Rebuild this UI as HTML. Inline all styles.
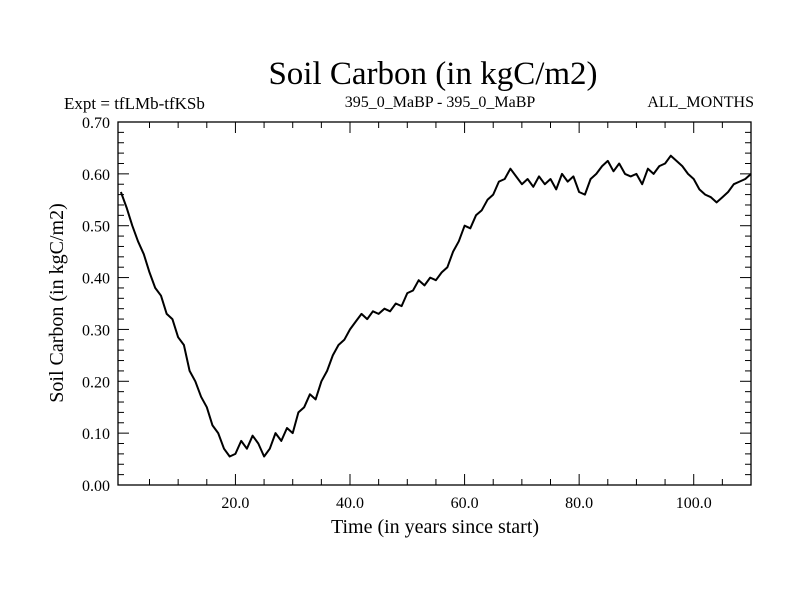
<!DOCTYPE html>
<html><head><meta charset="utf-8"><style>
body{margin:0;background:#fff}
svg text{font-family:"Liberation Serif",serif;fill:#000}
</style></head><body>
<svg id="c" width="800" height="600" xmlns="http://www.w3.org/2000/svg">
<text x="433" y="84" font-size="33" text-anchor="middle">Soil Carbon (in kgC/m2)</text>
<text x="64" y="109" font-size="17">Expt = tfLMb-tfKSb</text>
<text x="440" y="107" font-size="16" text-anchor="middle">395_0_MaBP - 395_0_MaBP</text>
<text x="754" y="107" font-size="16" text-anchor="end">ALL_MONTHS</text>
<text x="435" y="533" font-size="20" text-anchor="middle">Time (in years since start)</text>
<text transform="translate(63,303) rotate(-90)" font-size="20" text-anchor="middle">Soil Carbon (in kgC/m2)</text>
<g id="ax"></g>
<path id="ln" fill="none" stroke="#000" stroke-width="2" stroke-linejoin="round"/>
<rect x="118" y="122" width="633" height="363" fill="none" stroke="#000" stroke-width="1.3"/>
</svg>
<script>
const years=[0,1,2,3,4,5,6,7,8,9,10,11,12,13,14,15,16,17,18,19,20,21,22,23,24,25,26,27,28,29,30,31,32,33,34,35,36,37,38,39,40,41,42,43,44,45,46,47,48,49,50,51,52,53,54,55,56,57,58,59,60,61,62,63,64,65,66,67,68,69,70,71,72,73,74,75,76,77,78,79,80,81,82,83,84,85,86,87,88,89,90,91,92,93,94,95,96,97,98,99,100,101,102,103,104,105,106,107,108,109,110];
const carbon=[0.565,0.535,0.5,0.47,0.445,0.41,0.38,0.365,0.33,0.32,0.285,0.27,0.22,0.2,0.17,0.15,0.115,0.1,0.07,0.055,0.06,0.085,0.07,0.095,0.08,0.055,0.07,0.1,0.085,0.11,0.1,0.14,0.15,0.175,0.165,0.2,0.22,0.25,0.27,0.28,0.3,0.315,0.33,0.32,0.335,0.33,0.34,0.335,0.35,0.345,0.37,0.375,0.395,0.385,0.4,0.395,0.41,0.42,0.45,0.47,0.5,0.495,0.52,0.53,0.55,0.56,0.585,0.59,0.61,0.595,0.58,0.59,0.575,0.595,0.58,0.59,0.57,0.6,0.585,0.595,0.565,0.56,0.59,0.6,0.615,0.625,0.605,0.62,0.6,0.595,0.6,0.58,0.61,0.6,0.615,0.62,0.635,0.625,0.615,0.6,0.59,0.57,0.56,0.555,0.545,0.555,0.565,0.58,0.585,0.59,0.6];
const xTicks=[20,40,60,80,100];
const xTickLabels=["20.0","40.0","60.0","80.0","100.0"];
const yTicks=[0,0.1,0.2,0.3,0.4,0.5,0.6,0.7];
const yTickLabels=["0.00","0.10","0.20","0.30","0.40","0.50","0.60","0.70"];
const X0=118,X1=751,Y0=485,Y1=122,xmin=-0.5,xmax=110,ymin=0,ymax=0.7;
const sx=v=>X0+(v-xmin)/(xmax-xmin)*(X1-X0);
const sy=v=>Y0-(v-ymin)/(ymax-ymin)*(Y0-Y1);
const ns="http://www.w3.org/2000/svg",ax=document.getElementById('ax');
function ln(x1,y1,x2,y2,name){const l=document.createElementNS(ns,'line');l.setAttribute('x1',x1);l.setAttribute('y1',y1);l.setAttribute('x2',x2);l.setAttribute('y2',y2);l.setAttribute('stroke','#000');l.setAttribute('stroke-width','1');


ax.appendChild(l);}
function tx(x,y,s,anchor,name){const t=document.createElementNS(ns,'text');t.setAttribute('x',x);t.setAttribute('y',y);t.setAttribute('font-size','16');t.setAttribute('text-anchor',anchor);t.textContent=s;


ax.appendChild(t);}
for(let v=5;v<=110;v+=5){const x=sx(v),L=v%20===0?11:6;ln(x,Y0,x,Y0-L,'x-tick');ln(x,Y1,x,Y1+L,'x-tick-top');}
xTicks.forEach((v,i)=>tx(sx(v),508,xTickLabels[i],'middle','x-tick-label'));
for(let k=0;k<=35;k++){const v=k*0.02,y=sy(v),L=k%5===0?11:6;ln(X0,y,X0+L,y,'y-tick');ln(X1,y,X1-L,y,'y-tick-right');}
yTicks.forEach((v,i)=>tx(110,sy(v)+6,yTickLabels[i],'end','y-tick-label'));
document.getElementById('ln').setAttribute('d',carbon.map((v,i)=>(i?'L':'M')+sx(years[i]).toFixed(1)+','+sy(v).toFixed(1)).join(''));
</script>
</body></html>
